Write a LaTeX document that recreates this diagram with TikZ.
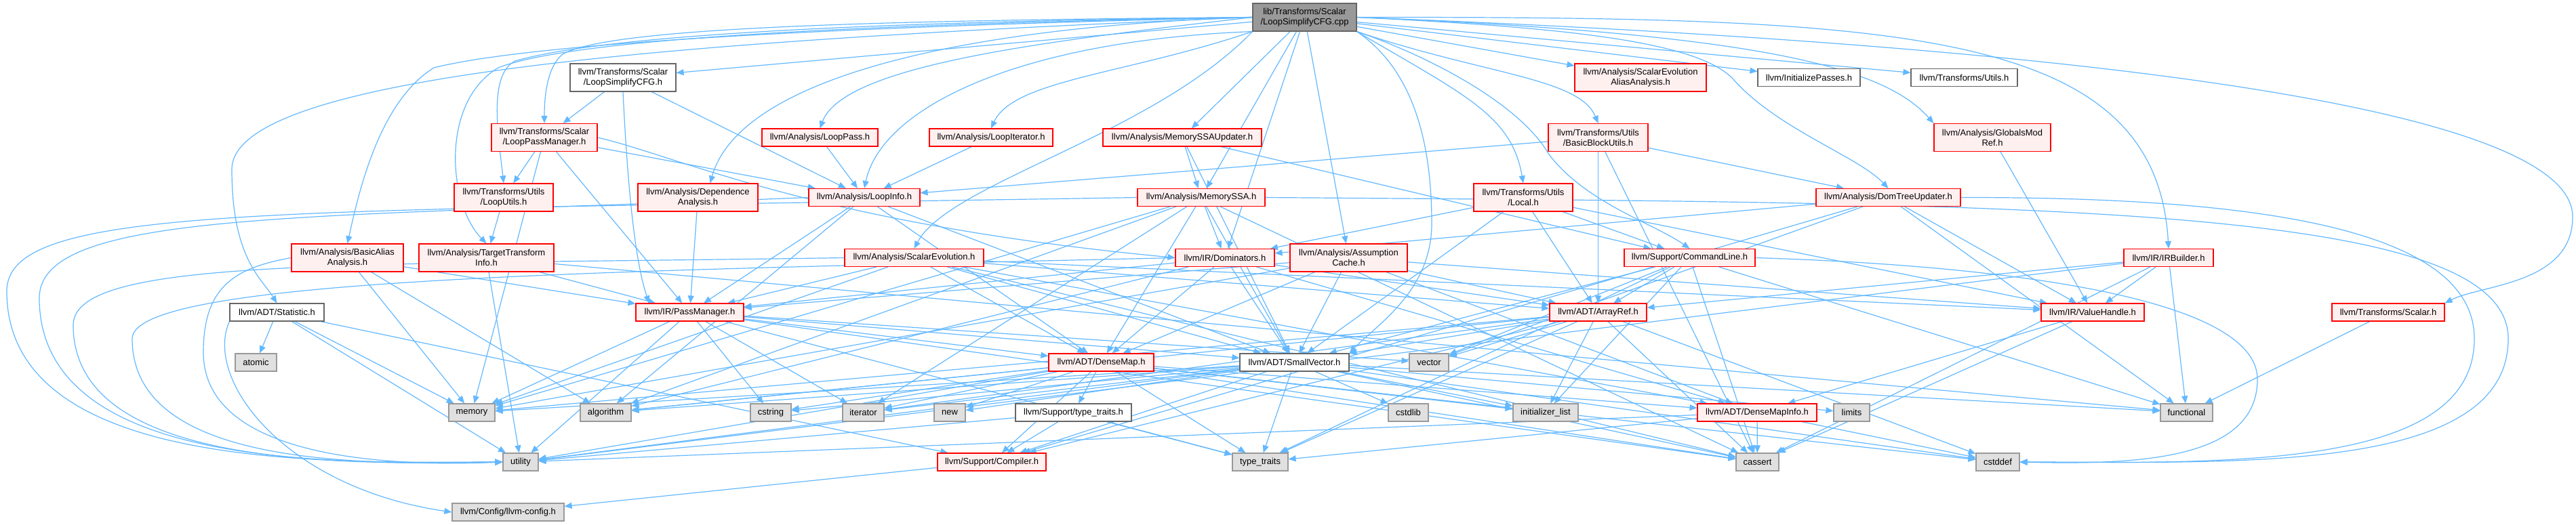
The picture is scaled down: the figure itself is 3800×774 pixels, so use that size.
\documentclass[tikz,border=0pt]{standalone}
\usepackage{fontspec}
\setmainfont{Liberation Sans}
\usetikzlibrary{arrows.meta}
\pgfdeclarelayer{background}
\pgfsetlayers{background,main}
\definecolor{edgec}{HTML}{63B8FF}
\definecolor{hborder}{HTML}{FF0000}
\definecolor{hfill}{HTML}{FFF0F0}
\definecolor{lfill}{HTML}{E0E0E0}
\definecolor{lborder}{HTML}{999999}
\definecolor{wborder}{HTML}{666666}
\definecolor{rootfill}{HTML}{999999}
\newcommand\nodefont{\fontsize{13}{15}\selectfont}
\tikzset{
  base/.style={font=\nodefont, align=center, inner sep=0pt, line width=1.1pt, minimum height=26pt},
  two/.style={minimum height=41pt},
  hnode/.style={base, draw=hborder, fill=hfill},
  lnode/.style={base, draw=lborder, fill=lfill},
  wnode/.style={base, draw=wborder, fill=white},
  rootnode/.style={base, draw=wborder, fill=rootfill},
  edge/.style={draw=edgec, line width=1.2pt, -{Triangle[length=11pt,width=9pt]}},
}
\begin{document}
\begin{tikzpicture}[x=1pt,y=-1pt]
\useasboundingbox (0,0) rectangle (3800,774);
% row 0
\node[rootnode,two,minimum width=153pt] (cpp) at (1924.5,25.5) {lib/Transforms/Scalar\\/LoopSimplifyCFG.cpp};
% row 1
\node[wnode,two,minimum width=156pt] (lscfgh) at (919,114.5) {llvm/Transforms/Scalar\\/LoopSimplifyCFG.h};
\node[hnode,two,minimum width=194pt] (seaa) at (2420,114.5) {llvm/Analysis/ScalarEvolution\\AliasAnalysis.h};
\node[wnode,minimum width=151pt] (initp) at (2668.5,114.5) {llvm/InitializePasses.h};
\node[wnode,minimum width=157pt] (tutils) at (2897.5,114.5) {llvm/Transforms/Utils.h};
% row 2
\node[hnode,two,minimum width=156pt] (lpm) at (803,203) {llvm/Transforms/Scalar\\/LoopPassManager.h};
\node[hnode,minimum width=171pt] (lpass) at (1209.5,203) {llvm/Analysis/LoopPass.h};
\node[hnode,minimum width=182pt] (liter) at (1462,203) {llvm/Analysis/LoopIterator.h};
\node[hnode,minimum width=234pt] (mssau) at (1744,203) {llvm/Analysis/MemorySSAUpdater.h};
\node[hnode,two,minimum width=147pt] (bbu) at (2357.5,203) {llvm/Transforms/Utils\\/BasicBlockUtils.h};
\node[hnode,two,minimum width=172pt] (gmr) at (2939,203) {llvm/Analysis/GlobalsMod\\Ref.h};
% row 3
\node[hnode,two,minimum width=146pt] (lutils) at (743,291.5) {llvm/Transforms/Utils\\/LoopUtils.h};
\node[hnode,two,minimum width=177pt] (dep) at (1029.5,291.5) {llvm/Analysis/Dependence\\Analysis.h};
\node[hnode,minimum width=164pt] (linfo) at (1275,291.5) {llvm/Analysis/LoopInfo.h};
\node[hnode,minimum width=188pt] (mssa) at (1772,291.5) {llvm/Analysis/MemorySSA.h};
\node[hnode,two,minimum width=146pt] (local) at (2247,291.5) {llvm/Transforms/Utils\\/Local.h};
\node[hnode,minimum width=213pt] (dtu) at (2785.5,291.5) {llvm/Analysis/DomTreeUpdater.h};
% row 4
\node[hnode,two,minimum width=165pt] (baa) at (512.5,380.5) {llvm/Analysis/BasicAlias\\Analysis.h};
\node[hnode,two,minimum width=199pt] (tti) at (717.5,380.5) {llvm/Analysis/TargetTransform\\Info.h};
\node[hnode,minimum width=205pt] (se) at (1348.5,380.5) {llvm/Analysis/ScalarEvolution.h};
\node[hnode,minimum width=146pt] (dom) at (1807,380.5) {llvm/IR/Dominators.h};
\node[hnode,two,minimum width=173pt] (ac) at (1989.5,380.5) {llvm/Analysis/Assumption\\Cache.h};
\node[hnode,minimum width=193pt] (cl) at (2492.5,380.5) {llvm/Support/CommandLine.h};
\node[hnode,minimum width=132pt] (irb) at (3199,380.5) {llvm/IR/IRBuilder.h};
% row 5
\node[wnode,minimum width=139pt] (stat) at (408.5,461) {llvm/ADT/Statistic.h};
\node[hnode,minimum width=159pt] (pm) at (1017.5,461) {llvm/IR/PassManager.h};
\node[hnode,minimum width=143pt] (aref) at (2357.5,461) {llvm/ADT/ArrayRef.h};
\node[hnode,minimum width=152pt] (vh) at (3087,461) {llvm/IR/ValueHandle.h};
\node[hnode,minimum width=166pt] (tscalar) at (3523,461) {llvm/Transforms/Scalar.h};
% row 6
\node[lnode,minimum width=61pt] (atomic) at (377.5,535) {atomic};
\node[hnode,minimum width=155pt] (dmap) at (1624.5,535) {llvm/ADT/DenseMap.h};
\node[wnode,minimum width=161pt] (svec) at (1909.5,535) {llvm/ADT/SmallVector.h};
\node[lnode,minimum width=58pt] (vector) at (2108,535) {vector};
% row 7
\node[lnode,minimum width=68pt] (memory) at (696,609) {memory};
\node[lnode,minimum width=75pt] (algorithm) at (893.5,609) {algorithm};
\node[lnode,minimum width=60pt] (cstring) at (1137,609) {cstring};
\node[lnode,minimum width=61pt] (iterator) at (1273.5,609) {iterator};
\node[lnode,minimum width=46pt] (new) at (1401,609) {new};
\node[wnode,minimum width=171pt] (tth) at (1583.5,609) {llvm/Support/type\_traits.h};
\node[lnode,minimum width=59pt] (cstdlib) at (2077.5,609) {cstdlib};
\node[lnode,minimum width=96pt] (ilist) at (2280,609) {initializer\_list};
\node[hnode,minimum width=176pt] (dmi) at (2592,609) {llvm/ADT/DenseMapInfo.h};
\node[lnode,minimum width=53pt] (limits) at (2731.5,609) {limits};
\node[lnode,minimum width=77pt] (functional) at (3225.5,609) {functional};
% row 8
\node[lnode,minimum width=52pt] (utility) at (768,682) {utility};
\node[hnode,minimum width=160pt] (compiler) at (1463,682) {llvm/Support/Compiler.h};
\node[lnode,minimum width=82pt] (tt) at (1859,682) {type\_traits};
\node[lnode,minimum width=63pt] (cassert) at (2592.5,682) {cassert};
\node[lnode,minimum width=64pt] (cstddef) at (2947,682) {cstddef};
% row 9
\node[lnode,minimum width=165pt] (config) at (749.5,756) {llvm/Config/llvm-config.h};

\begin{pgfonlayer}{background}
% edges from the source file
\draw[edge] (cpp) -- (lscfgh);
\draw[edge] (cpp) -- (seaa);
\draw[edge] (cpp) -- (initp);
\draw[edge] (cpp) -- (tutils);
\draw[edge] (cpp) -- (mssau);
\draw[edge] (cpp) -- (mssa);
\draw[edge] (cpp) -- (dom);
\draw[edge] (cpp) -- (ac);
\draw[edge] (cpp.west) .. controls (1300,30) and (900,40) .. (830,80) .. controls (805,100) and (803,150) .. (lpm.north);
\draw[edge] (cpp.west) .. controls (1300,32) and (900,50) .. (760,90) .. controls (720,110) and (735,200) .. (lutils.north);
\draw[edge] (cpp.west) .. controls (1300,35) and (850,55) .. (735,100) .. controls (650,150) and (660,300) .. (tti.north);
\draw[edge] (cpp.west) .. controls (1300,38) and (800,60) .. (640,100) .. controls (560,150) and (530,280) .. (baa.north);
\draw[edge] (cpp.west) .. controls (1400,40) and (1090,120) .. ([xshift=18pt]dep.north);
\draw[edge] (cpp.west) .. controls (1550,60) and (1245,95) .. (lpass.north);
\draw[edge] (cpp.south west) .. controls (1500,60) and (1300,160) .. (linfo.north);
\draw[edge] (cpp.south west) .. controls (1660,110) and (1495,118) .. (liter.north);
\draw[edge] (cpp.south west) .. controls (1700,200) and (1400,270) .. (se.north);
\draw[edge] (cpp.south east) .. controls (2080,100) and (2112,200) .. (2112,330) .. controls (2112,430) and (2030,480) .. (svec.north east);
\draw[edge] (cpp.south east) .. controls (2100,80) and (2240,150) .. (2285,228) .. controls (2340,300) and (2440,330) .. (cl.north);
\draw[edge] (cpp.south east) .. controls (2160,140) and (2230,170) .. (local.north);
\draw[edge] (cpp.south east) .. controls (2190,110) and (2330,115) .. (bbu.north);
\draw[edge] (cpp.east) .. controls (2300,40) and (2500,60) .. (2555,115) .. controls (2620,190) and (2740,230) .. (dtu.north);
\draw[edge] (cpp.east) .. controls (2600,50) and (2780,100) .. (gmr.north west);
\draw[edge] (cpp.east) .. controls (2800,25) and (3180,40) .. (irb.north);
\draw[edge] (cpp.west) .. controls (1000,60) and (342,110) .. (342,250) .. controls (342,380) and (385,410) .. (stat.north);
\draw[edge] (cpp.east) .. controls (2900,60) and (3795,140) .. (3795,320) .. controls (3795,420) and (3660,420) .. (tscalar.north east);
% other edges
\draw[edge] (lscfgh.south) .. controls (925,260) and (935,380) .. ([xshift=20pt]pm.north west);
\draw[edge] (lpm.east) .. controls (1000,230) and (1200,330) .. (dom.west);
\foreach \a/\b in {
 lscfgh/lpm, lscfgh/linfo,
 lpm/lutils, lpm/linfo, lpm/pm, lpm/memory,
 lutils/tti, lpass/linfo, liter/linfo,
 mssau/mssa, mssau/svec, mssau/cl,
 bbu/linfo, bbu/dtu, bbu/aref, bbu/cassert,
 gmr/vh, dep/pm,
 linfo/pm, linfo/dmap, linfo/svec, linfo/algorithm,
 mssa/dom, mssa/dmap, mssa/svec, mssa/algorithm, mssa/cassert, mssa/iterator, mssa/memory,
 local/dom, local/aref, local/cl, local/svec, local/vh,
 dtu/dom, dtu/vh, dtu/compiler, dtu/functional, dtu/vector,
 baa/pm, baa/memory, baa/algorithm,
 tti/pm, tti/functional, tti/utility,
 se/aref, se/dmap, se/dmi, se/svec, se/pm, se/vh, se/cassert, se/memory,
 dom/pm, dom/dmap, dom/svec, dom/aref, dom/dmi, dom/algorithm,
 ac/aref, ac/dmap, ac/dmi, ac/svec, ac/pm, ac/vh, ac/memory,
 cl/aref, cl/svec, cl/cassert, cl/functional, cl/ilist, cl/tt, cl/vector,
 irb/aref, irb/vh, irb/functional, irb/cassert, irb/utility,
 stat/atomic, stat/memory, stat/utility, stat/compiler,
 pm/dmap, pm/svec, pm/cassert, pm/cstring, pm/iterator, pm/memory, pm/tt, pm/utility, pm/vector,
 aref/svec, aref/compiler, aref/algorithm, aref/cassert, aref/cstddef, aref/ilist, aref/iterator, aref/memory, aref/tt, aref/vector,
 vh/dmi, vh/cassert, tscalar/functional,
 dmap/dmi, dmap/compiler, dmap/tth, dmap/algorithm, dmap/cassert, dmap/cstddef, dmap/cstring, dmap/ilist, dmap/iterator, dmap/new, dmap/tt, dmap/utility,
 svec/compiler, svec/algorithm, svec/cassert, svec/cstddef, svec/cstdlib, svec/cstring, svec/functional, svec/ilist, svec/iterator, svec/limits, svec/memory, svec/new, svec/tt, svec/utility,
 tth/compiler, tth/tt, tth/utility,
 dmi/cassert, dmi/cstddef, dmi/tt, dmi/utility,
 compiler/config}
 \draw[edge] (\a) -- (\b);
% long routes
\draw[edge] (stat.south west) .. controls (300,560) and (420,720) .. (config.west);
\draw[edge] (mssa.west) .. controls (400,313) and (10,300) .. (10,430) .. controls (10,700) and (500,682) .. (utility.west);
\draw[edge] (linfo.west) .. controls (450,322) and (58,310) .. (58,440) .. controls (58,695) and (500,684) .. (utility.west);
\draw[edge] (se.west) .. controls (500,392) and (108,380) .. (108,480) .. controls (108,690) and (500,686) .. (utility.west);
\draw[edge] (dom.west) .. controls (900,400) and (195,410) .. (195,500) .. controls (195,680) and (500,688) .. (utility.west);
\draw[edge] (baa.west) .. controls (350,395) and (300,420) .. (300,520) .. controls (300,670) and (550,690) .. (utility.west);
\draw[edge] (mssa.east) .. controls (3000,300) and (3700,300) .. (3700,500) .. controls (3700,700) and (3300,682) .. (cstddef.east);
\draw[edge] (dtu.east) .. controls (3300,291) and (3650,330) .. (3650,500) .. controls (3650,690) and (3300,684) .. (cstddef.east);
\draw[edge] (cl.east) .. controls (2900,390) and (3330,430) .. (3330,560) .. controls (3330,680) and (3150,686) .. (cstddef.east);
\end{pgfonlayer}
\end{tikzpicture}
\end{document}
